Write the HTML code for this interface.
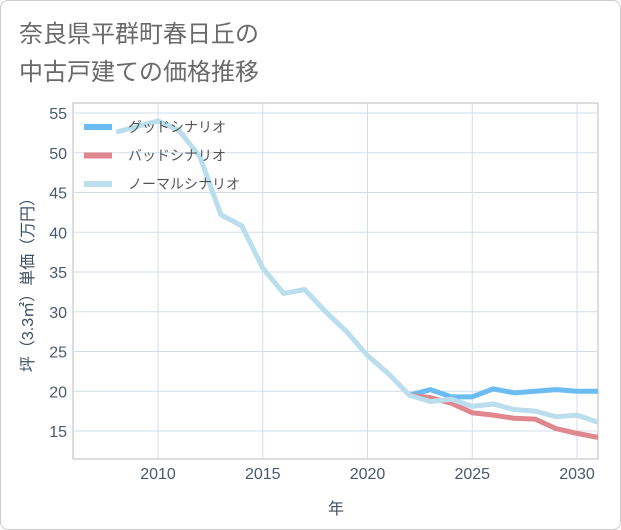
<!DOCTYPE html>
<html><head><meta charset="utf-8"><style>
body{margin:0;background:#fff;}
#wrap{position:relative;width:619px;height:528px;border:1px solid #ccc;border-radius:8px;overflow:hidden;font-family:"Liberation Sans","Noto Sans CJK JP",sans-serif;}
text{font-family:"Liberation Sans","Noto Sans CJK JP",sans-serif;}
</style></head><body>
<div id="wrap">
<svg id="svg" width="621" height="530">
<text x="18" y="41" font-size="24" fill="#6a6a6a">奈良県平群町春日丘の</text>
<text x="18" y="79" font-size="24" fill="#6a6a6a">中古戸建ての価格推移</text>
<g id="grid"></g><g id="lines"></g><g id="legend"></g>
<text x="335" y="513" font-size="16" fill="#3d4f63" text-anchor="middle">年</text>
<text transform="translate(32,280) rotate(-90)" font-size="16" fill="#3d4f63" text-anchor="middle">坪（3.3㎡）単価（万円）</text>
</svg></div>
<script>
const years=[2008,2009,2010,2011,2012,2013,2014,2015,2016,2017,2018,2019,2020,2021,2022,2023,2024,2025,2026,2027,2028,2029,2030,2031];
const normal=[52.6,53.3,54.0,52.8,49.5,42.2,40.8,35.5,32.3,32.8,30.0,27.5,24.5,22.2,19.5,18.7,19.0,18.1,18.4,17.7,17.5,16.8,17.0,16.1];
const futureYears=[2022,2023,2024,2025,2026,2027,2028,2029,2030,2031];
const good=[19.5,20.2,19.3,19.3,20.3,19.8,20.0,20.2,20.0,20.0];
const bad=[19.5,19.2,18.5,17.3,17.0,16.6,16.5,15.3,14.7,14.2];
const xTicks=[2010,2015,2020,2025,2030];
const yTicks=[15,20,25,30,35,40,45,50,55];
const NS="http://www.w3.org/2000/svg";
const L=72,R=597,T=102,B=458;
const x=v=>157+(v-2010)*20.95;
const y=v=>112+(55-v)*7.95;
function mk(t,a,p){const e=document.createElementNS(NS,t);for(const k in a)e.setAttribute(k,a[k]);p.appendChild(e);return e;}
const g=document.getElementById('grid');
mk('rect',{x:L,y:T,width:R-L,height:B-T,fill:'none',stroke:'#bbb'},g);
xTicks.forEach(v=>{const l=mk('line',{x1:x(v),x2:x(v),y1:T,y2:B,stroke:'#d3dde8'},g);

const t=mk('text',{x:x(v),y:478,'font-size':16,fill:'#4a5a6c','text-anchor':'middle'},g);t.textContent=v;
});
yTicks.forEach(v=>{const l=mk('line',{x1:L,x2:R,y1:y(v),y2:y(v),stroke:'#d3dde8'},g);

const t=mk('text',{x:66,y:y(v)+6,'font-size':16,fill:'#4a5a6c','text-anchor':'end'},g);t.textContent=v;
});
const lg=document.getElementById('lines');
function line(xs,vs,c,n){const p=mk('polyline',{points:xs.map((a,i)=>x(a)+','+y(vs[i])).join(' '),fill:'none',stroke:c,'stroke-width':5,'stroke-linejoin':'round'},lg);
}
line(futureYears,good,'#6bbcf2','good-scenario-line');
line(futureYears,bad,'#e0868e','bad-scenario-line');
line(years,normal,'#badeed','normal-scenario-line');
const leg=document.getElementById('legend');
[['グッドシナリオ','#6bbcf2'],['バッドシナリオ','#e0868e'],['ノーマルシナリオ','#badeed']].forEach((d,i)=>{
const yy=126+i*28.5;
const r=mk('rect',{x:83,y:yy-3,width:28,height:6,fill:d[1]},leg);

const t=mk('text',{x:127,y:yy+5,'font-size':14,fill:'#555'},leg);t.textContent=d[0];
});
</script>
</body></html>
